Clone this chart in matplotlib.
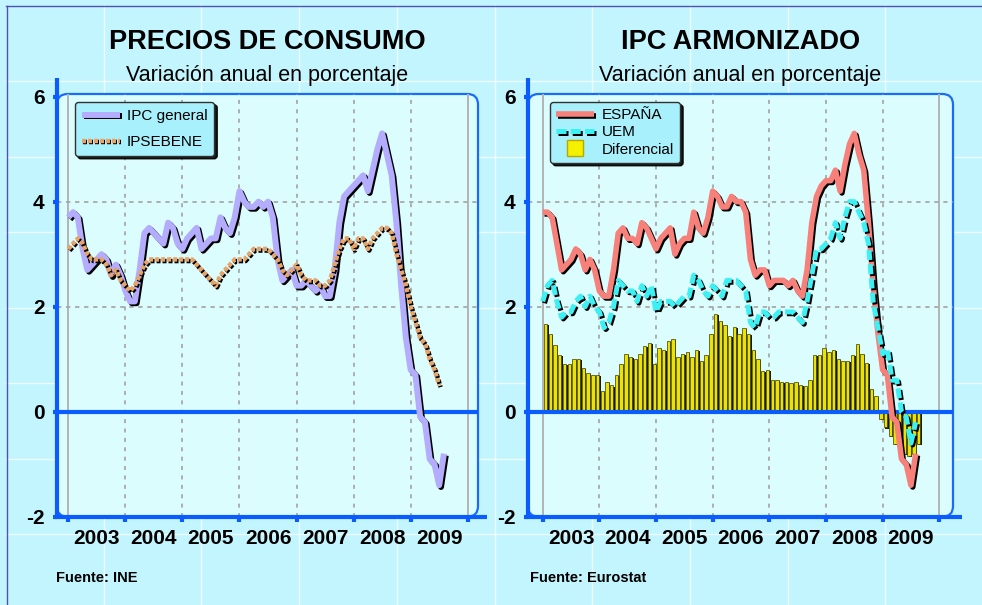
import numpy as np
import matplotlib
matplotlib.use('Agg')
import matplotlib.pyplot as plt
from matplotlib import patheffects as pe
from matplotlib.patches import FancyBboxPatch
from matplotlib.lines import Line2D

plt.rcParams['font.family'] = ['Liberation Sans', 'DejaVu Sans']
plt.rcParams['axes.unicode_minus'] = False

# ---------------- data (monthly, Jan 2003 - Aug 2009) ----------------
years = ['2003', '2004', '2005', '2006', '2007', '2008', '2009']

ipc_general = [3.7, 3.8, 3.7, 3.1, 2.7, 2.8, 2.9, 3.0, 2.9, 2.6, 2.8, 2.6,
               2.3, 2.1, 2.1, 2.7, 3.4, 3.5, 3.4, 3.3, 3.2, 3.6, 3.5, 3.2,
               3.1, 3.3, 3.4, 3.5, 3.1, 3.2, 3.3, 3.3, 3.7, 3.5, 3.4, 3.7,
               4.2, 4.0, 3.9, 3.9, 4.0, 3.9, 4.0, 3.7, 2.9, 2.5, 2.6, 2.7,
               2.4, 2.4, 2.5, 2.4, 2.3, 2.4, 2.2, 2.2, 2.7, 3.6, 4.1, 4.2,
               4.3, 4.4, 4.5, 4.2, 4.6, 5.0, 5.3, 4.9, 4.5, 3.6, 2.4, 1.4,
               0.8, 0.7, -0.1, -0.2, -0.9, -1.0, -1.4, -0.8]

ipsebene = [3.1, 3.2, 3.3, 3.2, 3.0, 2.9, 2.9, 2.9, 2.8, 2.6, 2.7, 2.5,
            2.4, 2.3, 2.4, 2.6, 2.8, 2.9, 2.9, 2.9, 2.9, 2.9, 2.9, 2.9,
            2.9, 2.9, 2.9, 2.8, 2.7, 2.6, 2.5, 2.4, 2.6, 2.7, 2.8, 2.9,
            2.9, 2.9, 3.0, 3.1, 3.1, 3.1, 3.1, 3.0, 2.9, 2.7, 2.6, 2.7,
            2.8, 2.6, 2.5, 2.5, 2.5, 2.4, 2.4, 2.5, 2.8, 3.1, 3.3, 3.3,
            3.1, 3.3, 3.3, 3.1, 3.3, 3.4, 3.5, 3.5, 3.4, 3.0, 2.7, 2.4,
            2.0, 1.7, 1.4, 1.3, 1.0, 0.8, 0.5]

espana = [3.8, 3.8, 3.7, 3.2, 2.7, 2.8, 2.9, 3.1, 3.0, 2.7, 2.9, 2.7,
          2.3, 2.2, 2.2, 2.7, 3.4, 3.5, 3.3, 3.3, 3.2, 3.6, 3.5, 3.3,
          3.1, 3.3, 3.4, 3.5, 3.0, 3.2, 3.3, 3.3, 3.8, 3.5, 3.4, 3.7,
          4.2, 4.1, 3.9, 3.9, 4.1, 4.0, 4.0, 3.8, 2.9, 2.6, 2.7, 2.7,
          2.4, 2.5, 2.5, 2.5, 2.4, 2.5, 2.3, 2.2, 2.7, 3.6, 4.1, 4.3,
          4.4, 4.4, 4.6, 4.2, 4.7, 5.1, 5.3, 4.9, 4.6, 3.6, 2.4, 1.5,
          0.8, 0.7, -0.1, -0.2, -0.9, -1.0, -1.4, -0.8]

uem = [2.1, 2.4, 2.5, 2.1, 1.8, 1.9, 1.9, 2.1, 2.2, 2.0, 2.2, 2.0,
       1.9, 1.6, 1.7, 2.0, 2.5, 2.4, 2.3, 2.3, 2.1, 2.4, 2.2, 2.4,
       1.9, 2.1, 2.1, 2.1, 2.0, 2.1, 2.2, 2.2, 2.6, 2.5, 2.3, 2.2,
       2.4, 2.3, 2.2, 2.5, 2.5, 2.5, 2.4, 2.3, 1.7, 1.6, 1.9, 1.9,
       1.8, 1.8, 1.9, 1.9, 1.9, 1.9, 1.8, 1.7, 2.1, 2.6, 3.1, 3.1,
       3.2, 3.3, 3.6, 3.3, 3.7, 4.0, 4.0, 3.8, 3.6, 3.2, 2.1, 1.6,
       1.1, 1.2, 0.6, 0.6, 0.0, -0.1, -0.6, -0.2]

diferencial = [1.67, 1.48, 1.27, 1.08, 0.91, 0.91, 1.00, 1.00, 0.84, 0.74, 0.70, 0.70,
               0.40, 0.57, 0.50, 0.70, 0.91, 1.10, 1.04, 1.00, 1.10, 1.25, 1.31, 0.91,
               1.21, 1.17, 1.35, 1.38, 1.04, 1.10, 1.14, 1.04, 1.17, 0.96, 1.08, 1.48,
               1.86, 1.72, 1.65, 1.45, 1.62, 1.48, 1.59, 1.48, 1.17, 1.00, 0.77, 0.80,
               0.60, 0.60, 0.57, 0.57, 0.54, 0.57, 0.51, 0.48, 0.61, 1.08, 1.08, 1.21,
               1.14, 1.17, 1.00, 0.96, 0.96, 1.08, 1.28, 1.10, 0.93, 0.43, 0.30, -0.14,
               -0.30, -0.46, -0.62, -0.75, -0.80, -0.85, -0.80, -0.62]

# ---------------- styling ----------------
W, H = 982, 605
BG = '#c2f5fd'
PLOT_BG = '#dcfdfd'
BLUE = '#0a5cff'
FRAME = '#1a6cf8'
GRID = '#a8a8a8'

fig = plt.figure(figsize=(W / 100, H / 100), dpi=100, facecolor=BG)

# decorative background grid + top/left border
for k in range(1, 10):
    x = 6 + 97.7 * k
    fig.add_artist(Line2D([x / W, x / W], [0, 1 - 5 / H], color='white',
                          lw=1.0, alpha=0.75, transform=fig.transFigure, zorder=-2))
for k in range(1, 8):
    y = 5.5 + 75.5 * k
    fig.add_artist(Line2D([6 / W, 1], [1 - y / H, 1 - y / H], color='white',
                          lw=1.0, alpha=0.75, transform=fig.transFigure, zorder=-2))
fig.add_artist(Line2D([6 / W, 1], [1 - 5.5 / H, 1 - 5.5 / H], color='#5050b8', lw=1.0,
                      transform=fig.transFigure, zorder=-1))
fig.add_artist(Line2D([6.5 / W, 6.5 / W], [0, 1 - 5.5 / H], color='#5050b8', lw=1.0,
                      transform=fig.transFigure, zorder=-1))

shadow_line = [pe.SimpleLineShadow(offset=(1.3, -1.3), shadow_color='black', alpha=1.0), pe.Normal()]

def setup_axes(rect, xlim):
    ax = fig.add_axes(rect)
    ax.set_facecolor('none')
    ax.set_xlim(*xlim)
    ax.set_ylim(-2, 6.05)
    frame = FancyBboxPatch((0, 0), 1, 1, boxstyle='round,pad=0,rounding_size=0.025',
                           transform=ax.transAxes, facecolor=PLOT_BG, edgecolor=FRAME,
                           lw=1.6, zorder=0.2, clip_on=False)
    ax.add_patch(frame)
    for s in ['top', 'right']:
        ax.spines[s].set_visible(False)
    for s in ['left', 'bottom']:
        ax.spines[s].set_color(BLUE)
        ax.spines[s].set_linewidth(3.0)
        ax.spines[s].set_zorder(6)
        ax.spines[s].set_capstyle('butt')
    ax.spines['left'].set_bounds(-2.03, 6.36)
    ax.spines['bottom'].set_bounds(xlim[0] - 0.4, xlim[1] + 1.9)
    # grid
    for m in range(0, 85, 12):
        if m in (0, 84):
            ax.axvline(m, color='#b4b4b4', lw=1.4, zorder=1)
        else:
            ax.axvline(m, color=GRID, lw=1.3, ls=(0, (2.2, 3.0)), zorder=1)
    for v in (2, 4):
        ax.axhline(v, color=GRID, lw=1.3, ls=(0, (2.4, 2.6)), zorder=1)
    ax.axhline(0, color=BLUE, lw=3.0, zorder=3)
    # ticks
    ax.set_yticks([-2, 0, 2, 4, 6])
    ax.set_yticklabels(['-2', '0', '2', '4', '6'], fontsize=15, fontweight='bold')
    ax.tick_params(axis='y', direction='out', length=3, width=3, color=BLUE, pad=6)
    ax.set_xticks(range(0, 85, 12))
    ax.set_xticklabels([])
    ax.set_xticks(range(6, 84, 12), minor=True)
    ax.set_xticklabels(years, minor=True, fontsize=15, fontweight='bold')
    ax.tick_params(axis='x', which='major', direction='out', length=3.5, width=3, color=BLUE)
    ax.tick_params(axis='x', which='minor', length=0, pad=9)
    return ax

ybot = 1 - 516.7 / H
yh = (516.7 - 94) / H
ax1 = setup_axes([57 / W, ybot, (478 - 57) / W, yh], (-2.376, 86.16))
ax2 = setup_axes([528 / W, ybot, (953 - 528) / W, yh], (-3.114, 86.91))

# ---------------- left chart ----------------
m1 = np.arange(len(ipc_general))
m2 = np.arange(len(ipsebene))
l_ipc, = ax1.plot(m1, ipc_general, color='#b4acfc', lw=4.3, zorder=4,
                  solid_joinstyle='round', solid_capstyle='butt',
                  path_effects=shadow_line, label='IPC general')
l_core, = ax1.plot(m2, ipsebene, color='#e8a468', lw=3.2, ls=(0, (0.9, 0.45)), zorder=5,
                   dash_capstyle='butt', dash_joinstyle='round',
                   path_effects=[pe.SimpleLineShadow(offset=(1.0, -1.2), shadow_color='black', alpha=1.0),
                                 pe.Normal()], label='IPSEBENE')
leg1 = ax1.legend(handles=[l_ipc, l_core], loc='upper left',
                  bbox_to_anchor=(18 / 421, 1 - 8 / 422), borderaxespad=0,
                  fontsize=11, frameon=True, fancybox=True, framealpha=1,
                  facecolor='#a8f0fc', edgecolor='#303030', handlelength=2.5,
                  handletextpad=0.45, labelspacing=0.8, borderpad=0.45,
                  shadow={'color': 'black', 'alpha': 0.9})
leg1.set_zorder(10)

# ---------------- right chart ----------------
m3 = np.arange(len(diferencial))
ax2.bar(m3 + 0.62, diferencial, width=0.72, color='#ece400', edgecolor='#3a3a00',
        linewidth=0.5, zorder=2,
        path_effects=[pe.SimplePatchShadow(offset=(1.0, -0.8), shadow_rgbFace='black', alpha=0.9),
                      pe.Normal()])
m4 = np.arange(len(espana))
l_esp, = ax2.plot(m4, espana, color='#f8807a', lw=4.0, zorder=4,
                  solid_joinstyle='round', solid_capstyle='butt',
                  path_effects=shadow_line, label='ESPAÑA')
l_uem, = ax2.plot(np.arange(len(uem)), uem, color='#3cf0f4', lw=3.6, ls=(0, (2.0, 0.85)),
                  dash_capstyle='butt', dash_joinstyle='round', zorder=5,
                  path_effects=shadow_line, label='UEM')
h_dif = Line2D([], [], ls='none', marker='s', markersize=11, markerfacecolor='#f4f000',
               markeredgecolor='#b8a800', markeredgewidth=1.0, label='Diferencial')
leg2 = ax2.legend(handles=[l_esp, l_uem, h_dif], loc='upper left',
                  bbox_to_anchor=(22 / 425, 1 - 8 / 422), borderaxespad=0,
                  fontsize=11, frameon=True, fancybox=True, framealpha=1,
                  facecolor='#a8f0fc', edgecolor='#303030', handlelength=2.5,
                  handletextpad=0.5, labelspacing=0.22, borderpad=0.4,
                  shadow={'color': 'black', 'alpha': 0.9})
leg2.set_zorder(10)

# ---------------- texts ----------------
fig.text(267.5 / W, 1 - 42 / H, 'PRECIOS DE CONSUMO', ha='center', va='center',
         fontsize=19.5, fontweight='bold')
fig.text(267.5 / W, 1 - 75 / H, 'Variación anual en porcentaje', ha='center', va='center',
         fontsize=15.5)
fig.text(740.5 / W, 1 - 42 / H, 'IPC ARMONIZADO', ha='center', va='center',
         fontsize=19.5, fontweight='bold')
fig.text(740.5 / W, 1 - 75 / H, 'Variación anual en porcentaje', ha='center', va='center',
         fontsize=15.5)
fig.text(56 / W, 1 - 578 / H, 'Fuente: INE', ha='left', va='center', fontsize=10.5,
         fontweight='bold')
fig.text(530 / W, 1 - 578 / H, 'Fuente: Eurostat', ha='left', va='center', fontsize=10.5,
         fontweight='bold')

fig.savefig('out.png', dpi=100, facecolor=BG)
